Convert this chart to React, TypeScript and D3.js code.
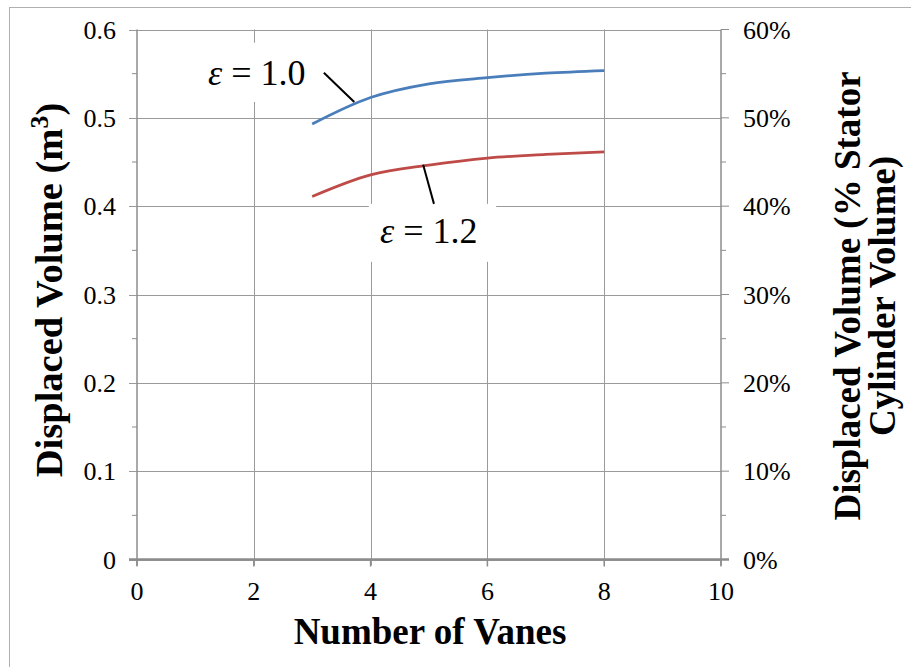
import React from "react";
import * as d3 from "d3";

const vanes = [3, 4, 5, 6, 7, 8];
const eps10 = [0.493, 0.523, 0.5385, 0.5455, 0.5505, 0.5535];
const eps12 = [0.411, 0.4355, 0.4465, 0.4545, 0.4585, 0.4615];
const xTicks = [0, 2, 4, 6, 8, 10];
const yTicks = [0, 0.1, 0.2, 0.3, 0.4, 0.5, 0.6];
const yMinor = [0.05, 0.15, 0.25, 0.35, 0.45, 0.55];
const pctTicks = [0, 10, 20, 30, 40, 50, 60];

const W = 911;
const H = 667;
const FONT = "'Liberation Serif', 'Times New Roman', serif";

export default function App() {
  const x = d3.scaleLinear().domain([0, 10]).range([137, 721]);
  const y = d3.scaleLinear().domain([0, 0.6]).range([559.5, 29.5]);
  const yp = d3.scaleLinear().domain([0, 60]).range([559.5, 29.5]);

  const line = d3
    .line<number>()
    .x((_, i) => x(vanes[i]))
    .y((d) => y(d))
    .curve(d3.curveCatmullRom.alpha(0.5));

  const grid = "#9a9a9a";
  const axis = "#8c8c8c";

  return (
    <svg
      width={W}
      height={H}
      style={{ position: "absolute", left: 0, top: 0, background: "#fff" }}
      fontFamily={FONT}
    >
      <rect x={0} y={0} width={W} height={H} fill="#fff" />
      <rect x={9.5} y={7.5} width={1000} height={1000} fill="none" stroke="#b0b0b0" strokeWidth={1} />

      {/* horizontal gridlines */}
      {yTicks.map((t) => (
        <line key={"hg" + t} x1={x(0) - 8} x2={x(10)} y1={Math.round(y(t)) + 0.5} y2={Math.round(y(t)) + 0.5} stroke={grid} strokeWidth={1} />
      ))}
      {/* vertical gridlines */}
      {xTicks.slice(1, 5).map((t) => (
        <line key={"vg" + t} x1={Math.round(x(t)) + 0.5} x2={Math.round(x(t)) + 0.5} y1={y(0.6)} y2={y(0) + 6} stroke={grid} strokeWidth={1} />
      ))}

      {/* annotation boxes */}
      <rect x={x(1.03)} y={y(0.585)} width={x(3.2) - x(1.03)} height={y(0.518) - y(0.585)} fill="#fff" />
      <rect x={x(3.97)} y={y(0.4026)} width={x(6.15) - x(3.97)} height={y(0.337) - y(0.4026)} fill="#fff" />

      {/* left axis */}
      <line x1={x(0)} x2={x(0)} y1={y(0.6)} y2={y(0) + 6} stroke={axis} strokeWidth={1.5} />
      {yMinor.map((t) => (
        <line key={"lm" + t} x1={x(0) - 5} x2={x(0)} y1={y(t)} y2={y(t)} stroke={axis} strokeWidth={1} />
      ))}
      {/* right axis */}
      <line x1={x(10)} x2={x(10)} y1={y(0.6)} y2={y(0) + 6} stroke={axis} strokeWidth={1.5} />
      {pctTicks.map((t) => (
        <line key={"rt" + t} x1={x(10)} x2={x(10) + 8} y1={yp(t)} y2={yp(t)} stroke={axis} strokeWidth={1} />
      ))}
      {yMinor.map((t) => (
        <line key={"rm" + t} x1={x(10)} x2={x(10) + 5} y1={y(t)} y2={y(t)} stroke={axis} strokeWidth={1} />
      ))}
      {/* bottom axis */}
      <line x1={x(0) - 8} x2={x(10) + 8} y1={y(0)} y2={y(0)} stroke={axis} strokeWidth={2.5} />
      {xTicks.map((t) => (
        <line key={"xt" + t} x1={x(t)} x2={x(t)} y1={y(0)} y2={y(0) + 7} stroke={axis} strokeWidth={1.5} />
      ))}

      {/* tick labels */}
      {yTicks.map((t) => (
        <text key={"yl" + t} x={x(0) - 21} y={y(t)} dy="0.35em" textAnchor="end" fontSize={26} fill="#000">
          {t === 0 ? "0" : d3.format(".1f")(t)}
        </text>
      ))}
      {pctTicks.map((t) => (
        <text key={"pl" + t} x={x(10) + 22} y={yp(t)} dy="0.35em" textAnchor="start" fontSize={26} fill="#000">
          {t + "%"}
        </text>
      ))}
      {xTicks.map((t) => (
        <text key={"xl" + t} x={x(t)} y={600} textAnchor="middle" fontSize={26} fill="#000">
          {t}
        </text>
      ))}

      {/* series */}
      <path d={line(eps10) || ""} fill="none" stroke="#4a7ebb" strokeWidth={2.75} />
      <path d={line(eps12) || ""} fill="none" stroke="#be4b48" strokeWidth={2.75} />

      {/* annotations */}
      <line x1={x(3.2)} y1={y(0.551)} x2={x(3.72)} y2={y(0.518)} stroke="#000" strokeWidth={2} />
      <line x1={x(4.9)} y1={y(0.447)} x2={x(5.085)} y2={y(0.4026)} stroke="#000" strokeWidth={2} />
      <text x={x(1.216)} y={y(0.5374)} fontSize={36} fill="#000">
        <tspan fontStyle="italic">ε</tspan> = 1.0
      </text>
      <text x={x(4.16)} y={y(0.3584)} fontSize={36} fill="#000">
        <tspan fontStyle="italic">ε</tspan> = 1.2
      </text>

      {/* axis titles */}
      <text x={430} y={644} textAnchor="middle" fontSize={37} fontWeight="bold" fill="#000">
        Number of Vanes
      </text>
      <text transform={`translate(62,290) rotate(-90)`} textAnchor="middle" fontSize={38.5} fontWeight="bold" fill="#000">
        Displaced Volume (m<tspan fontSize={26} dy={-14}>3</tspan><tspan dy={14}>)</tspan>
      </text>
      <text transform={`translate(860,296) rotate(-90)`} textAnchor="middle" fontSize={37} fontWeight="bold" fill="#000">
        <tspan x={0} dy={0}>Displaced Volume (% Stator</tspan>
        <tspan x={0} dy={35}>Cylinder Volume)</tspan>
      </text>
    </svg>
  );
}
